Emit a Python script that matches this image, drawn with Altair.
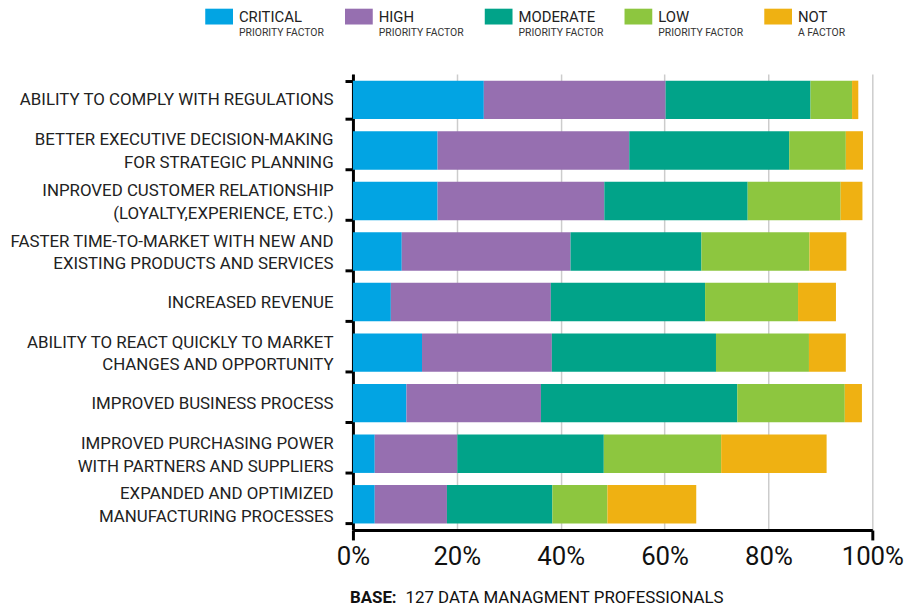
import altair as alt
import pandas as pd

categories = [
    "ABILITY TO COMPLY WITH REGULATIONS",
    "BETTER EXECUTIVE DECISION-MAKING|FOR STRATEGIC PLANNING",
    "INPROVED CUSTOMER RELATIONSHIP|(LOYALTY,EXPERIENCE, ETC.)",
    "FASTER TIME-TO-MARKET WITH NEW AND|EXISTING PRODUCTS AND SERVICES",
    "INCREASED REVENUE",
    "ABILITY TO REACT QUICKLY TO MARKET|CHANGES AND OPPORTUNITY",
    "IMPROVED BUSINESS PROCESS",
    "IMPROVED PURCHASING POWER|WITH PARTNERS AND SUPPLIERS",
    "EXPANDED AND OPTIMIZED|MANUFACTURING PROCESSES",
]

levels = ["CRITICAL", "HIGH", "MODERATE", "LOW", "NOT"]
level_sub = ["PRIORITY FACTOR", "PRIORITY FACTOR", "PRIORITY FACTOR", "PRIORITY FACTOR", "A FACTOR"]
colors = ["#02a4e3", "#966fb0", "#01a389", "#8dc63f", "#efb112"]

critical = [25.2, 16.3, 16.3, 9.4, 7.3, 13.3, 10.3, 4.2, 4.2]
high = [35.0, 36.9, 32.1, 32.5, 30.8, 25.0, 25.9, 15.9, 13.9]
moderate = [27.9, 30.8, 27.6, 25.2, 29.7, 31.6, 37.8, 28.2, 20.3]
low = [8.0, 10.9, 17.9, 20.8, 17.9, 17.9, 20.7, 22.6, 10.6]
not_factor = [1.2, 3.3, 4.2, 7.1, 7.3, 7.1, 3.3, 20.3, 17.1]

x_ticks = [0, 20, 40, 60, 80, 100]
footnote_bold = "BASE:"
footnote_text = "127 DATA MANAGMENT PROFESSIONALS"

series = [critical, high, moderate, low, not_factor]
rows = []
for li, (lvl, vals) in enumerate(zip(levels, series)):
    for cat, v in zip(categories, vals):
        rows.append({"category": cat, "level": lvl, "order": li, "value": v})
df = pd.DataFrame(rows)

legend_df = pd.DataFrame({"level": levels, "sub": level_sub})

FONT = "Roboto, sans-serif"
W, H = 524, 460

color_scale = alt.Scale(domain=levels, range=colors)

bars = alt.Chart(df).mark_bar().encode(
    y=alt.Y(
        "category:N",
        sort=categories,
        scale=alt.Scale(paddingInner=0.24, paddingOuter=0.13),
        axis=alt.Axis(
            title=None,
            labelExpr="split(datum.label, '|')",
            labelFont=FONT,
            labelFontSize=17,
            labelLineHeight=23,
            labelColor="#222222",
            labelPadding=12,
            labelLimit=400,
            labelOffset={
                "condition": {"test": "indexof(datum.label, '|') >= 0", "value": -10.5},
                "value": 0,
            },
            tickBand="extent",
            tickSize=8,
            tickWidth=3,
            tickColor="#000000",
            domainColor="#000000",
            domainWidth=3,
            grid=False,
        ),
    ),
    x=alt.X(
        "value:Q",
        stack="zero",
        scale=alt.Scale(domain=[0, 100], nice=False),
        axis=alt.Axis(
            title=None,
            values=x_ticks,
            labelExpr="datum.value + '%'",
            labelFont=FONT,
            labelFontSize=26,
            labelColor="#111111",
            labelPadding=4,
            labelFlush=False,
            tickSize=10,
            tickWidth=3,
            tickColor={
                "condition": {"test": "datum.value == 0 || datum.value == 100", "value": "#000000"},
                "value": "transparent",
            },
            domainColor="#000000",
            domainWidth=3,
            grid=True,
            gridColor="#cccccc",
            gridWidth=1.5,
        ),
    ),
    color=alt.Color("level:N", scale=color_scale, legend=None),
    order=alt.Order("order:Q", sort="ascending"),
)

# custom legend: items spread over a point scale
leg_x = alt.X("level:N", sort=levels, axis=None,
              scale=alt.Scale(type="point", domain=levels, range=[-149, 415], padding=0))
leg_base = alt.Chart(legend_df)
leg_swatch = leg_base.mark_point(
    shape="M0,-0.57L2,-0.57L2,0.57L0,0.57Z", size=784, filled=True, opacity=1, strokeWidth=0,
).encode(x=leg_x, y=alt.value(-58), color=alt.Color("level:N", scale=color_scale, legend=None))
leg_main = leg_base.mark_text(
    align="left", baseline="middle", dx=34, font=FONT, fontSize=15, color="#222222",
).encode(x=leg_x, y=alt.value(-58), text="level:N")
leg_sub = leg_base.mark_text(
    align="left", baseline="middle", dx=34, font=FONT, fontSize=10.5, color="#333333",
).encode(x=leg_x, y=alt.value(-41.5), text="sub:N")

note_bold = alt.Chart(alt.Data(values=[{}])).mark_text(
    text=footnote_bold, font=FONT, fontSize=17, fontWeight="bold",
    align="left", baseline="middle", color="#111111",
).encode(x=alt.value(-3), y=alt.value(H + 69))

note_rest = alt.Chart(alt.Data(values=[{}])).mark_text(
    text=footnote_text, font=FONT, fontSize=17,
    align="left", baseline="middle", color="#111111",
).encode(x=alt.value(53), y=alt.value(H + 69))

chart = alt.layer(bars, leg_swatch, leg_main, leg_sub, note_bold, note_rest).resolve_scale(
    x="independent"
).properties(
    width=W,
    height=H,
    autosize=alt.AutoSizeParams(type="none"),
    padding={"left": 348, "top": 64, "right": 36, "bottom": 79},
).configure_view(stroke=None)

chart.save("out.html", embed_options={"renderer": "svg", "actions": False})
